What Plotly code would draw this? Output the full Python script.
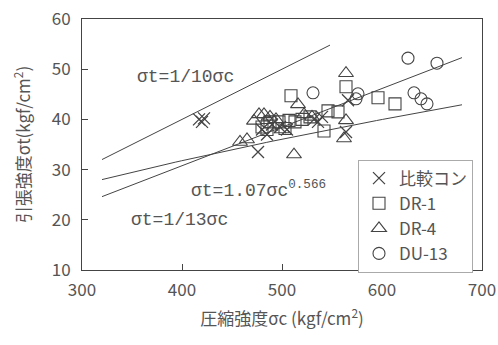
import numpy as np
import plotly.graph_objects as go

# ---- data ----
cross_x = [417, 420, 422, 476, 480, 485, 490, 498, 505, 532, 536, 540, 564, 566]
cross_y = [40.0, 39.5, 40.2, 33.5, 38.0, 37.0, 39.0, 38.5, 38.0, 40.0, 39.5, 40.5, 37.5, 43.8]

dr1_x = [509, 480, 485, 488, 497, 503, 507, 513, 520, 528, 542, 546, 556, 564, 596, 613]
dr1_y = [44.7, 38.5, 38.0, 39.5, 39.5, 38.2, 39.8, 39.5, 40.0, 40.5, 37.7, 41.7, 41.5, 46.5, 44.3, 43.1]

dr4_x = [458, 465, 472, 477, 482, 488, 494, 500, 512, 516, 522, 530, 564, 564, 562]
dr4_y = [35.5, 36.0, 39.7, 41.0, 41.0, 40.5, 40.0, 38.0, 33.0, 43.0, 41.0, 40.5, 49.2, 39.8, 36.2]

du13_x = [626, 655, 531, 576, 574, 632, 639, 645, 485]
du13_y = [52.2, 51.2, 45.3, 45.1, 44.1, 45.3, 44.1, 43.1, 39.5]

series_names = ["比較コン", "DR-1", "DR-4", "DU-13"]

# reference lines (ranges of sigma_c over which each is drawn)
line10_range = [320, 548]
line13_range = [320, 680]
power_range = [320, 680]
power_coef = 1.07
power_exp = 0.566

ink = "#444444"
txt = "#555555"
font_main = "Noto Sans CJK JP"

fig = go.Figure()

x10 = np.array(line10_range, dtype=float)
fig.add_trace(go.Scatter(x=x10, y=x10 / 10, mode="lines", line=dict(color=ink, width=1),
                         showlegend=False, hoverinfo="skip"))
x13 = np.array(line13_range, dtype=float)
fig.add_trace(go.Scatter(x=x13, y=x13 / 13, mode="lines", line=dict(color=ink, width=1),
                         showlegend=False, hoverinfo="skip"))
xp = np.linspace(power_range[0], power_range[1], 60)
fig.add_trace(go.Scatter(x=xp, y=power_coef * xp ** power_exp, mode="lines",
                         line=dict(color=ink, width=1), showlegend=False, hoverinfo="skip"))

fig.add_trace(go.Scatter(x=cross_x, y=cross_y, mode="markers", name=series_names[0],
                         marker=dict(symbol="x-thin", size=12, color=ink, line=dict(color=ink, width=1.3))))
fig.add_trace(go.Scatter(x=dr1_x, y=dr1_y, mode="markers", name=series_names[1],
                         marker=dict(symbol="square-open", size=12, color=ink, line=dict(color=ink, width=1.1))))
fig.add_trace(go.Scatter(x=dr4_x, y=dr4_y, mode="markers", name=series_names[2],
                         marker=dict(symbol="triangle-up-open", size=13, color=ink, line=dict(color=ink, width=1.1))))
fig.add_trace(go.Scatter(x=du13_x, y=du13_y, mode="markers", name=series_names[3],
                         marker=dict(symbol="circle-open", size=12, color=ink, line=dict(color=ink, width=1.1))))

ann_font = dict(family="Liberation Mono", size=18, color=txt)
fig.add_annotation(x=403, y=48.4, xref="x", yref="y", text="σt=1/10σc",
                   showarrow=False, font=ann_font)
fig.add_annotation(x=476, y=26.0, xref="x", yref="y", text="σt=1.07σc<sup>0.566</sup>",
                   showarrow=False, font=ann_font)
fig.add_annotation(x=397, y=20.0, xref="x", yref="y", text="σt=1/13σc",
                   showarrow=False, font=ann_font)

axis_common = dict(showline=True, linecolor=ink, linewidth=1, mirror=True, automargin=False,
                   ticks="inside", ticklen=6, tickcolor=ink, showgrid=False, zeroline=False,
                   tickfont=dict(family=font_main, size=17, color=txt))

fig.update_xaxes(range=[300, 700], dtick=100, ticklabelstandoff=5, **axis_common,
                 title=dict(text="圧縮強度σc (kgf/cm<sup>2</sup>)", standoff=12,
                            font=dict(family=font_main, size=17, color=txt)))
fig.update_yaxes(range=[10, 60], dtick=10, ticklabelstandoff=7, **axis_common,
                 title=dict(text="引張強度σt(kgf/cm<sup>2</sup>)", standoff=16,
                            font=dict(family=font_main, size=17, color=txt)))

fig.update_layout(
    width=498, height=345,
    margin=dict(l=82, r=16, t=19, b=75),
    plot_bgcolor="white", paper_bgcolor="white",
    legend=dict(x=0.69, y=0.44, xanchor="left", yanchor="top",
                bordercolor="#aaaaaa", borderwidth=1, bgcolor="white",
                font=dict(family=font_main, size=17, color=txt),
                itemwidth=30, tracegroupgap=0),
)

# remove the browser's default 8px body margin so the figure fills the window
fig.write_html("out.html", config={"displayModeBar": False},
               post_script="document.body.style.margin='0';document.body.style.overflow='hidden';")
